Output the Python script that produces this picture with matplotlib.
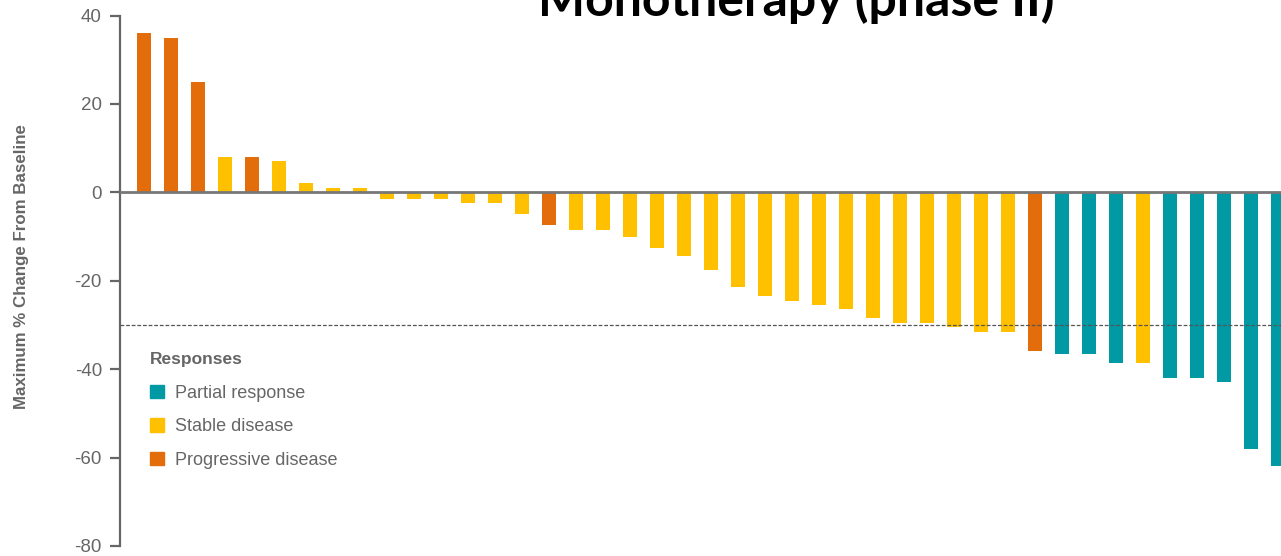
import matplotlib.pyplot as plt
from matplotlib.patches import Patch

# Max % change from baseline per patient, sorted (waterfall)
values = [36, 35, 25, 8, 8, 7, 2, 1, 1, -1.5, -1.5, -1.5, -2.5, -2.5, -5,
          -7.5, -8.5, -8.5, -10, -12.5, -14.5, -17.5, -21.5, -23.5, -24.5,
          -25.5, -26.5, -28.5, -29.5, -29.5, -30.5, -31.5, -31.5, -36,
          -36.5, -36.5, -38.5, -38.5, -42, -42, -43, -58, -62]
responses = ['PD', 'PD', 'PD', 'SD', 'PD', 'SD', 'SD', 'SD', 'SD',
             'SD', 'SD', 'SD', 'SD', 'SD', 'SD', 'PD'] + ['SD'] * 17 + \
            ['PD', 'PR', 'PR', 'PR', 'SD', 'PR', 'PR', 'PR', 'PR', 'PR']
labels = {'PR': 'Partial response', 'SD': 'Stable disease', 'PD': 'Progressive disease'}
colors = {'PR': '#0099a4', 'SD': '#ffc000', 'PD': '#e36c0b'}
yticks = [40, 20, 0, -20, -40, -60, -80]

grey = '#666666'
plt.rcParams['font.family'] = ['Liberation Sans', 'DejaVu Sans']
plt.rcParams['axes.unicode_minus'] = False

fig = plt.figure(figsize=(12.81, 5.56), dpi=100)
ax = fig.add_axes([120 / 1281, 10 / 556, 1 - 120 / 1281, 530.5 / 556])

x = list(range(len(values)))
ax.bar(x, values, width=0.52, color=[colors[r] for r in responses], zorder=2)

ax.axhline(0, color='#777777', lw=2, zorder=3)
ax.axhline(-30, color='#555555', lw=0.9, ls=(0, (3, 1.5)), zorder=3)

ax.set_xlim(-0.89, 42.11)
ax.set_ylim(-80, 40)
ax.set_yticks(yticks)
ax.set_xticks([])
for s in ['top', 'right', 'bottom']:
    ax.spines[s].set_visible(False)
ax.spines['left'].set_color(grey)
ax.spines['left'].set_linewidth(1.6)
ax.tick_params(axis='y', colors=grey, labelsize=13.5, length=7, width=1.6, pad=6)
ax.set_ylabel('Maximum % Change From Baseline', fontsize=12.2, fontweight='bold',
              color=grey)
ax.yaxis.set_label_coords(-0.0784, 0.526)

handles = [Patch(color=colors[k], label=labels[k]) for k in ['PR', 'SD', 'PD']]
leg = ax.legend(handles=handles, title='Responses', loc='upper left',
                bbox_to_anchor=(30 / 1161, 0.366), frameon=False, fontsize=13,
                title_fontproperties={'weight': 'bold', 'size': 12.5},
                handlelength=0.78, handleheight=0.78, handletextpad=0.6,
                labelspacing=0.9, alignment='left', borderpad=0, borderaxespad=0)
leg._legend_box.sep = 13
leg.get_title().set_color(grey)
for t in leg.get_texts():
    t.set_color(grey)

fig.text(796 / 1281, 1 - 16 / 556, 'Monotherapy (phase II)', ha='center',
         va='baseline', fontsize=36, fontweight='bold', family='Lato', color='black')

plt.savefig('out.png', dpi=100)
plt.close()
